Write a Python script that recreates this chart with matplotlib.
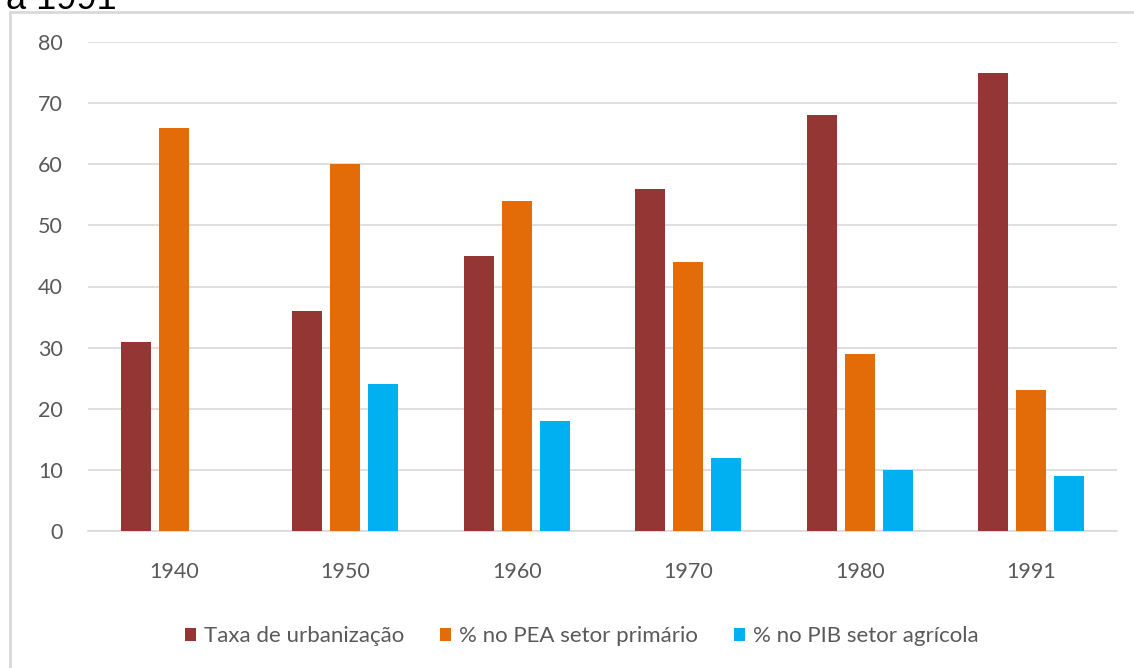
import matplotlib.pyplot as plt
import matplotlib.patches as mpatches
import numpy as np

anos = ['1940', '1950', '1960', '1970', '1980', '1991']
urbanizacao = [31, 36, 45, 56, 68, 75]
pea_primario = [66, 60, 54, 44, 29, 23]
pib_agricola = [0, 24, 18, 12, 10, 9]

series = ['Taxa de urbanização', '% no PEA setor primário', '% no PIB setor agrícola']
cores = ['#943634', '#E36C09', '#00B0F0']

plt.rcParams['font.family'] = ['Lato', 'DejaVu Sans']

W, H = 1134, 668
fig = plt.figure(figsize=(W / 100, H / 100), dpi=100)
ax = fig.add_axes([88 / W, 137 / H, (1117 - 88) / W, 489 / H])

# moldura do grafico (cortada na direita e embaixo)
fig.patches.append(mpatches.Rectangle((10 / W, -0.1), 1.2, (H - 12) / H + 0.1,
                                      transform=fig.transFigure, fill=False,
                                      edgecolor='#D9D9D9', linewidth=2))
# resto do titulo cortado no topo
fig.text(6 / W, (H - 9) / H, 'a 1991', fontsize=26, color='black',
         family=['Liberation Sans'], va='baseline', ha='left')

x = np.arange(len(anos))
largura = 0.175
passo = 0.222
for i, (vals, nome, cor) in enumerate(zip([urbanizacao, pea_primario, pib_agricola], series, cores)):
    ax.bar(x + (i - 1) * passo, vals, largura, color=cor, label=nome, zorder=3)

ax.set_xlim(-0.5, len(anos) - 0.5)
ax.set_ylim(0, 80)
ax.set_yticks(range(0, 81, 10))
ax.set_xticks(x)
ax.set_xticklabels(anos)
ax.grid(axis='y', color='#D9D9D9', linewidth=1.2, zorder=0)
for s in ['top', 'right', 'left']:
    ax.spines[s].set_visible(False)
ax.spines['bottom'].set_color('#D9D9D9')
ax.spines['bottom'].set_linewidth(1.2)
ax.tick_params(axis='both', length=0, colors='#595959', labelsize=15.5)
ax.tick_params(axis='y', pad=18)
ax.tick_params(axis='x', pad=22)

leg = ax.legend(loc='center', bbox_to_anchor=(0.48, -0.215), ncol=3, frameon=False,
                fontsize=16, handlelength=0.5, handleheight=0.5, handletextpad=0.36,
                columnspacing=1.6)
for t in leg.get_texts():
    t.set_color('#595959')

fig.savefig('out.png', dpi=100)
